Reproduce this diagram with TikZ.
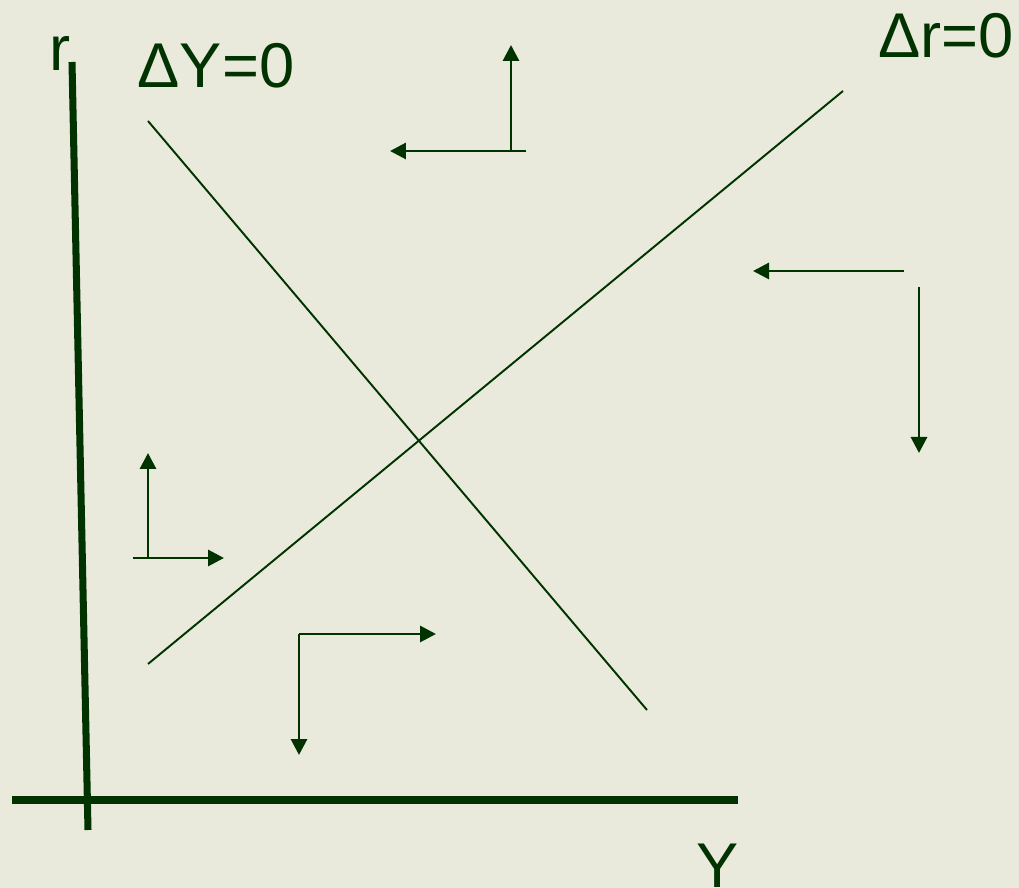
\documentclass[tikz,border=0pt]{standalone}
\usepackage{fontspec}
\setmainfont{Liberation Sans}
\usetikzlibrary{arrows.meta}
\definecolor{bgcol}{HTML}{E9E9DC}
\definecolor{ink}{HTML}{003300}

\begin{document}
\begin{tikzpicture}[x=0.02cm,y=-0.02cm,
  axis/.style={ink,line width=4pt},
  curve/.style={ink,line width=1.1pt},
  move/.style={ink,line width=1.7pt,-{Triangle[length=0.32cm,width=0.32cm]}},
  lbl/.style={ink,inner sep=0pt,font=\fontsize{36}{40}\selectfont}]
\fill[bgcol] (0,0) rectangle (1019,888);
\useasboundingbox (0,0) rectangle (1019,888);

% axes
\coordinate (rtop) at (72,62);
\coordinate (rbot) at (88,830);
\coordinate (yleft) at (12,800);
\coordinate (yright) at (738,800);
\draw[axis] (rtop) -- (rbot);
\draw[axis] (yleft) -- (yright);
\node[lbl] (r) at (60,53) {r};
\node[lbl] (Y) at (718,866) {Y};

% the two loci
\coordinate (dy1) at (148,121);
\coordinate (dy2) at (647,710);
\coordinate (dr1) at (148,664);
\coordinate (dr2) at (843,91);
\draw[curve] (dy1) -- (dy2);
\draw[curve] (dr1) -- (dr2);
\node[lbl] (dY) at (216,66) {ΔY=0};
\node[lbl] (dr) at (946,36) {Δr=0};

% directions, top
\coordinate (a1) at (511,151);
\coordinate (a1up) at (511,45);
\coordinate (a1r) at (526,151);
\coordinate (a1l) at (390,151);
\draw[move] (a1) -- (a1up);
\draw[move] (a1r) -- (a1l);

% left
\coordinate (b1) at (148,558);
\coordinate (b1up) at (148,453);
\coordinate (b1l) at (133,558);
\coordinate (b1r) at (224,558);
\draw[move] (b1) -- (b1up);
\draw[move] (b1l) -- (b1r);

% bottom
\coordinate (c1) at (299,634);
\coordinate (c1dn) at (299,755);
\coordinate (c1r) at (436,634);
\draw[move] (c1) -- (c1dn);
\draw[move] (c1) -- (c1r);

% right
\coordinate (d1r) at (904,271);
\coordinate (d1l) at (753,271);
\coordinate (d2) at (919,287);
\coordinate (d2dn) at (919,453);
\draw[move] (d1r) -- (d1l);
\draw[move] (d2) -- (d2dn);
\end{tikzpicture}
\end{document}
